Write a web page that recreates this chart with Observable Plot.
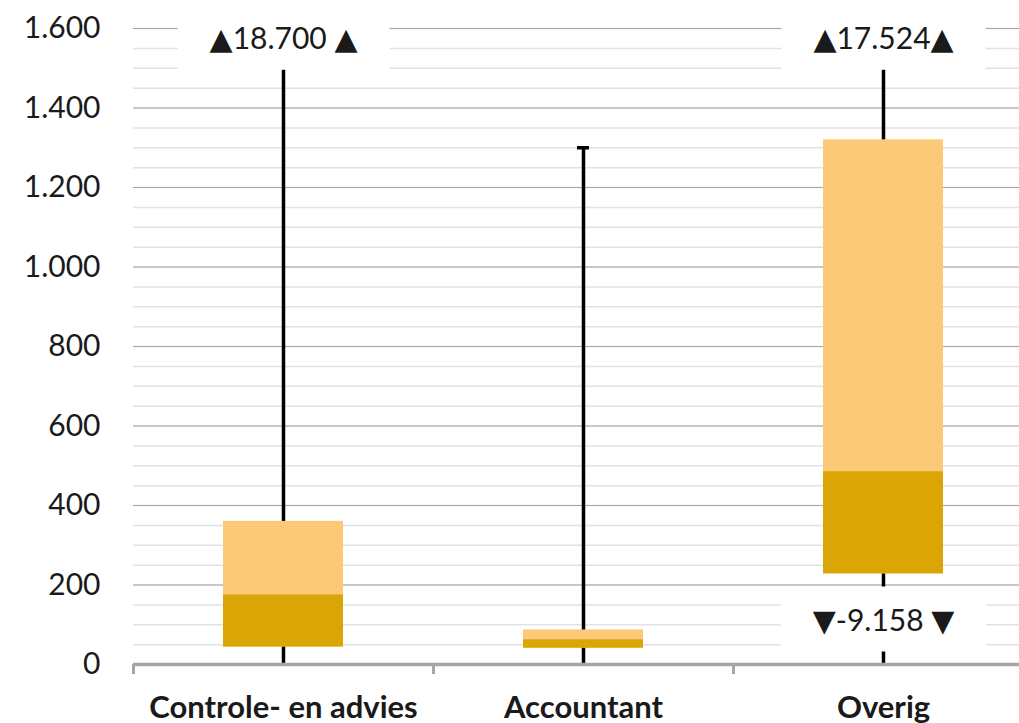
<!DOCTYPE html>
<html>
<head>
<meta charset="utf-8">
<script src="https://cdn.jsdelivr.net/npm/d3@7"></script>
<script src="https://cdn.jsdelivr.net/npm/@observablehq/plot@0.6"></script>
<style>
  html, body { margin: 0; padding: 0; background: #fff; }
  #chart svg { display: block; }
</style>
</head>
<body>
<div id="chart"></div>
<script>
// ---- data ----
const categories = ["Controle- en advies", "Accountant", "Overig"];
const q1 = [44, 41, 228];
const medians = [175, 62, 485];
const q3 = [360, 87, 1320];
const whiskerLow = [0, 0, -9158];
const whiskerHigh = [18700, 1300, 17524];
const highLabels = ["▲18.700 ▲", null, "▲17.524▲"];
const lowLabels = [null, null, "▼-9.158 ▼"];
const yTicks = [0, 200, 400, 600, 800, 1000, 1200, 1400, 1600];
const yMinorTicks = d3.range(0, 1601, 50);
const yMax = 1600;

const data = categories.map((c, i) => ({
  cat: c, q1: q1[i], med: medians[i], q3: q3[i],
  low: whiskerLow[i], high: whiskerHigh[i],
  highLabel: highLabels[i], lowLabel: lowLabels[i]
}));

const nl = d3.formatLocale({decimal: ",", thousands: ".", grouping: [3], currency: ["€", ""]});
const fmt = nl.format(",d");

const light = "#FCC978";
const dark = "#DBA506";
const ink = "#1a1a1a";

const chart = Plot.plot({
  width: 1019,
  height: 723,
  marginTop: 28,
  marginBottom: 59,
  marginLeft: 133,
  marginRight: 0,
  style: {fontFamily: "Lato, 'Noto Sans', sans-serif", background: "#fff", color: ink, overflow: "visible"},
  x: {domain: categories, range: [133, 1033], padding: 0, axis: null},
  y: {domain: [0, yMax], axis: null},
  marks: [
    Plot.ruleY(yMinorTicks, {stroke: "#dde3e6", strokeWidth: 1.5}),
    Plot.ruleY(yTicks.filter(d => d > 0), {stroke: "#a8a8a8", strokeWidth: 1.2}),
    Plot.axisY({ticks: yTicks, tickSize: 0, tickPadding: 33, tickFormat: fmt, fontSize: 30, label: null, fill: ink}),
    Plot.axisX({tickSize: 0, tickPadding: 31, label: null, fontSize: 31, fontWeight: "bold", fill: ink}),
    Plot.ruleX(data, {x: "cat", y1: "low", y2: "high", stroke: "#000", strokeWidth: 3.5, clip: true}),
    Plot.tickY(data.filter(d => d.high <= yMax), {x: "cat", y: "high", stroke: "#000", strokeWidth: 3.5, insetLeft: 144, insetRight: 144}),
    Plot.barY(data, {x: "cat", y1: "q1", y2: "q3", fill: light, insetLeft: 90, insetRight: 90}),
    Plot.barY(data, {x: "cat", y1: "q1", y2: "med", fill: dark, insetLeft: 90, insetRight: 90}),
    Plot.ruleY([0], {stroke: "#a6a6a6", strokeWidth: 3.5}),
    Plot.ruleX(categories, {x: d => d, dx: -150, y1: 0, y2: 0, insetBottom: -10, stroke: "#a6a6a6", strokeWidth: 3}),
    Plot.text(data.filter(d => d.highLabel), {x: "cat", text: "highLabel", frameAnchor: "top", dy: -1, fontSize: 30, fill: ink}),
    Plot.text(data.filter(d => d.lowLabel), {x: "cat", text: "lowLabel", frameAnchor: "bottom", dy: -34, fontSize: 30, fill: ink})
  ]
});

document.getElementById("chart").appendChild(chart);

// white backgrounds behind the out-of-range labels; bigger triangle glyphs
const labelSet = new Set([...highLabels, ...lowLabels].filter(Boolean));
d3.select(chart).selectAll("text").each(function() {
  const s = this.textContent;
  if (!labelSet.has(s)) return;
  this.textContent = "";
  for (const part of s.split(/([▲▼])/).filter(p => p.length)) {
    const ts = document.createElementNS("http://www.w3.org/2000/svg", "tspan");
    ts.textContent = part;
    if (part === "▲" || part === "▼") ts.setAttribute("font-family", "'DejaVu Sans'");
    this.appendChild(ts);
  }
  const b = this.getBBox();
  const padX = 32, padY = 14;
  const t = this.getAttribute("transform");
  const r = document.createElementNS("http://www.w3.org/2000/svg", "rect");
  const top = highLabels.includes(s) ? -40 : b.y - padY;
  r.setAttribute("x", b.x - padX);
  r.setAttribute("y", top);
  r.setAttribute("width", b.width + 2 * padX);
  r.setAttribute("height", b.y + b.height + padY - top);
  r.setAttribute("fill", "#fff");
  r.setAttribute("stroke", "none");
  if (t) r.setAttribute("transform", t);
  this.parentNode.insertBefore(r, this);
});
</script>
</body>
</html>
